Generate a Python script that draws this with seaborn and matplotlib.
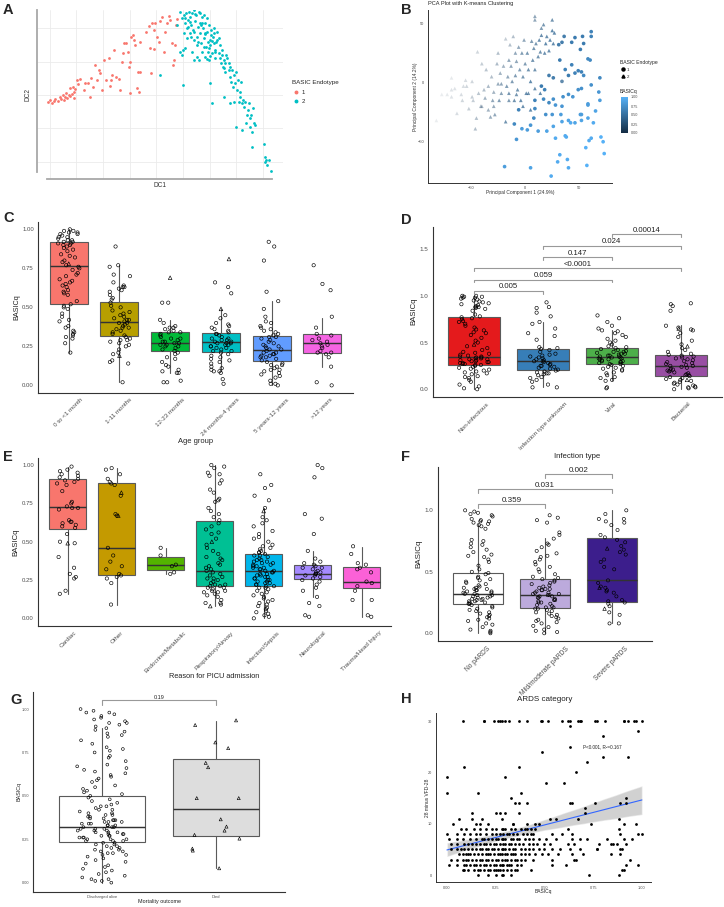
import numpy as np
import matplotlib
matplotlib.use("Agg")
import matplotlib.pyplot as plt
import seaborn as sns
from matplotlib.colors import LinearSegmentedColormap, Normalize
from matplotlib.cm import ScalarMappable
from matplotlib.lines import Line2D

# ---------------- data ----------------
# A: diffusion map, endotype 1 (red) and 2 (teal)
a_dc1_1 = [14.3, 15.0, 15.5, 16.0, 16.5, 17.2, 17.8, 18.3, 18.8, 19.0, 19.5, 19.8, 20.0, 20.5, 20.8, 21.0, 21.5,
           21.8, 22.0, 22.2, 22.5, 23.0, 23.2, 24.0, 25.0, 25.5, 26.2, 26.8, 27.2, 27.8, 28.5, 29.0, 29.5, 30.0,
           30.5, 31.2, 31.8, 32.5, 33.0, 33.2, 33.5, 34.2, 34.8, 35.5, 36.0, 36.5, 36.8, 37.2, 37.8, 38.2, 38.5,
           38.8, 39.0, 39.2, 39.8, 40.2, 40.5, 41.0, 41.2, 41.5, 41.8, 42.0, 43.8, 44.5, 45.0, 45.2, 45.5, 46.0,
           46.2, 46.5, 47.0, 47.5, 47.8, 48.5, 49.0, 49.5, 50.0, 50.5, 51.0, 51.5, 51.8, 52.0, 52.5, 52.7, 53.0]
a_dc2_1 = [23.5, 24.0, 23.0, 23.7, 24.2, 23.7, 24.8, 24.2, 25.5, 24.0, 25.0, 26.2, 24.5, 25.5, 27.5, 25.2, 25.7,
           28.0, 24.5, 26.5, 27.2, 30.0, 28.8, 30.2, 27.0, 29.0, 29.2, 25.0, 30.5, 27.8, 34.5, 30.0, 33.0, 32.0,
           27.0, 36.0, 30.0, 36.5, 28.2, 30.0, 31.5, 39.0, 30.8, 30.2, 27.0, 35.5, 38.0, 41.2, 41.0, 38.5, 34.0,
           35.5, 26.2, 43.0, 43.5, 42.0, 40.5, 27.5, 32.5, 26.5, 41.5, 32.5, 44.5, 46.2, 39.5, 32.0, 47.0, 39.2,
           45.0, 47.2, 43.0, 41.5, 47.8, 49.0, 38.5, 44.5, 47.0, 49.2, 48.0, 41.0, 34.5, 36.0, 40.5, 46.5, 48.2]
a_dc1_2 = [48.0, 54.8, 53.0, 54.0, 54.5, 55.0, 55.2, 55.5, 55.8, 56.0, 56.2, 56.5, 56.8, 57.0, 57.2, 57.5, 57.8,
           58.0, 58.2, 58.5, 58.8, 59.0, 59.2, 59.5, 59.8, 60.0, 60.2, 60.5, 60.8, 61.0, 61.2, 61.5, 61.8, 62.0,
           62.2, 62.5, 62.8, 63.0, 63.2, 63.5, 63.8, 64.0, 64.2, 64.5, 64.8, 65.0, 65.5, 65.8, 66.0, 66.2, 66.5,
           66.8, 67.0, 67.2, 67.5, 67.8, 68.0, 68.5, 68.8, 69.0, 69.2, 69.5, 69.8, 70.0, 70.5, 70.8, 71.0, 71.2,
           71.5, 71.8, 72.0, 72.2, 72.5, 72.8, 73.0, 73.5, 73.8, 74.0, 74.2, 74.5, 74.8, 75.0, 75.2, 75.5, 75.8,
           76.0, 76.5, 54.8, 54.5, 53.8, 55.5, 57.5, 58.0, 59.0, 60.5, 61.5, 62.0, 62.5, 62.8, 63.6, 67.2, 69.0,
           70.0, 70.8, 72.5, 75.5, 79.0, 79.5, 79.8, 80.0, 80.5, 81.2, 79.5,
           55.3, 56.3, 57.3, 58.3, 59.3, 60.3, 61.3, 62.3, 63.3, 64.3, 56.0, 57.0, 58.0, 59.0, 60.0, 61.0, 62.0,
           63.0, 64.0, 65.0, 59.5, 60.5, 61.5, 62.5, 63.5, 64.5, 65.5, 66.5, 67.5, 68.5]
a_dc2_2 = [31.5, 28.5, 46.5, 50.5, 48.5, 44.0, 49.5, 47.0, 50.0, 45.5, 48.0, 50.5, 44.0, 49.0, 46.5, 50.0, 45.0,
           51.0, 42.0, 47.8, 49.5, 43.0, 46.0, 50.5, 47.2, 44.0, 41.0, 49.0, 45.5, 42.5, 49.5, 47.0, 40.0, 44.5,
           38.5, 46.5, 42.0, 40.5, 45.0, 38.0, 43.0, 41.0, 44.0, 39.0, 41.5, 44.5, 38.0, 40.5, 36.5, 35.0, 39.0,
           34.0, 33.5, 36.0, 32.5, 37.5, 36.5, 35.0, 31.0, 34.0, 29.5, 33.0, 28.0, 31.5, 29.0, 32.5, 27.0, 30.0,
           23.5, 25.0, 26.5, 29.5, 23.0, 24.0, 22.0, 23.5, 17.0, 19.5, 21.0, 23.0, 18.5, 16.0, 19.5, 14.5, 21.5,
           17.0, 16.5, 39.0, 37.5, 38.5, 39.5, 38.5, 36.0, 37.0, 38.5, 37.0, 36.2, 36.0, 29.2, 23.0, 25.0, 23.0,
           23.5, 16.0, 15.0, 10.0, 10.7, 7.0, 6.0, 4.5, 6.0, 2.7, 5.5,
           48.5, 46.0, 43.0, 49.8, 41.5, 46.5, 44.0, 41.5, 43.5, 38.5, 42.5, 47.5, 44.5, 40.5, 50.2, 40.0, 48.5,
           37.2, 45.5, 42.0, 36.0, 47.0, 43.8, 39.5, 41.8, 36.5, 42.5, 37.5, 35.0, 33.0]

# B: PCA, endotype 1 (circles) and 2 (triangles) with BASICq
b_pc1_1 = [-19, 5, 24, 30, 32, 39, 40, 57, 56, 61, 59, 70, 73, 72, -8, -3, 2, 12, 20, 26, 28, 37, 38, 34, 42,
           46, 52, 63, 58, 51, 52, 19, 25, 33, 40, 65, 58, 58, 69, 68, 34, 28, 22, 17, 9, 26, 35, 44, 40, 49,
           52, 61, 69, 54, 46, 40, 34, 26, 22, 32, 37, 43, 49, 52, 58, 60, 51, 54, 61, 61, 53, 46, 43, 36, 31,
           34, 5, 8, -6, -10, 15, 18, 9]
b_pc2_1 = [-71, -72, -79, -67, -61, -65, -72, -70, -55, -47, -49, -46, -60, -50, -48, -39, -40, -41, -41, -37,
           -47, -45, -46, -33, -34, -34, -32, -34, -30, -27, -27, -27, -27, -27, -32, -24, -19, -18, -15, -8,
           -20, -19, -17, -14, -15, -14, -12, -12, -10, -6, -5, -2, 4, 6, 8, 6, 1, 4, 6, 19, 11, 15, 10, 9, 20,
           19, 28, 33, 39, 43, 39, 38, 34, 39, 32, 34, -36, -30, -23, -35, -3, -6, -22]
b_q_1 = [0.85, 0.9, 0.95, 0.95, 0.95, 0.95, 0.95, 1.0, 1.0, 0.95, 0.95, 1.0, 1.0, 1.0, 0.8, 0.85, 0.85, 0.85,
         0.9, 0.9, 0.95, 0.95, 0.95, 0.9, 0.95, 0.9, 0.9, 0.95, 0.9, 0.85, 0.85, 0.75, 0.8, 0.85, 0.9, 0.9,
         0.85, 0.85, 0.85, 0.8, 0.8, 0.8, 0.7, 0.7, 0.65, 0.75, 0.75, 0.8, 0.75, 0.75, 0.75, 0.75, 0.7, 0.7,
         0.65, 0.6, 0.45, 0.55, 0.55, 0.6, 0.65, 0.65, 0.65, 0.65, 0.7, 0.7, 0.6, 0.6, 0.65, 0.65, 0.6, 0.6,
         0.6, 0.55, 0.55, 0.55, 0.8, 0.7, 0.65, 0.7, 0.6, 0.65, 0.7]
b_pc1_2 = [-82, -68, -72, -68, -63, -59, -58, -55, -54, -52, -49, -48, -46, -45, -44, -43, -41, -40, -38, -37,
           -36, -34, -34, -32, -31, -30, -29, -28, -26, -25, -25, -24, -23, -22, -22, -20, -18, -18, -17, -16,
           -15, -15, -14, -13, -12, -11, -10, -9, -9, -8, -7, -6, -5, -4, -3, -2, -1, 0, 1, 2, 3, 5, 6, 7, 8,
           9, 9, 10, 12, 13, 14, 15, 15, 17, 18, 19, 20, 22, 23, 25, 25, 26, 27, 9, 5, -2, -8, 9, 14, 3, -15,
           -29, -40, -49, -57, -65, -68, -77]
b_pc2_2 = [-32, -6, -10, -12, -26, -10, -15, 2, -3, -22, 1, -15, -39, -30, 26, -9, -20, 16, -6, -13, 11, -23,
           -3, -29, 5, -15, -8, -27, 16, -1, 25, -15, 8, -9, -1, 14, 37, -33, -3, 5, 19, -9, 32, 14, 1, 39, -15,
           25, 6, 18, -6, 30, 11, -15, 25, 5, 36, 16, -9, 25, 11, 1, 35, 19, 29, 53, 11, 33, 22, 36, 26, 46, 40,
           49, 25, 33, 39, 27, 36, 53, 44, 33, 42, 56, -23, -20, -10, -5, -9, -9, -15, -20, -20, -12, -3, -5, 4,
           -10]
b_q_2 = [0.05, 0.08, 0.06, 0.08, 0.1, 0.1, 0.12, 0.1, 0.12, 0.15, 0.12, 0.15, 0.2, 0.2, 0.12, 0.18, 0.2, 0.15,
         0.2, 0.25, 0.18, 0.25, 0.22, 0.28, 0.2, 0.3, 0.25, 0.3, 0.22, 0.28, 0.2, 0.35, 0.25, 0.32, 0.3, 0.25,
         0.15, 0.4, 0.35, 0.3, 0.3, 0.38, 0.2, 0.3, 0.35, 0.2, 0.4, 0.3, 0.35, 0.3, 0.4, 0.3, 0.35, 0.42, 0.35,
         0.38, 0.3, 0.35, 0.42, 0.38, 0.4, 0.45, 0.35, 0.4, 0.38, 0.3, 0.4, 0.38, 0.4, 0.42, 0.4, 0.35, 0.42,
         0.38, 0.42, 0.45, 0.42, 0.42, 0.45, 0.4, 0.45, 0.45, 0.45, 0.3, 0.45, 0.42, 0.38, 0.42, 0.45, 0.4,
         0.35, 0.28, 0.22, 0.15, 0.1, 0.08, 0.06, 0.05]

# C: age group
c_labels = ["0 to <1 month", "1-11 months", "12-23 months", "24 months-4 years", "5 years-12 years", ">12 years"]
c_colors = ["#F8766D", "#B79F00", "#00BA38", "#00BFC4", "#619CFF", "#F564E3"]
c_q1 = [0.52, 0.318, 0.22, 0.215, 0.155, 0.205]
c_med = [0.767, 0.404, 0.27, 0.275, 0.225, 0.27]
c_q3 = [0.917, 0.532, 0.34, 0.335, 0.315, 0.33]
c_lo = [0.21, 0.02, 0.08, 0.09, 0.0, 0.12]
c_hi = [1.0, 0.77, 0.42, 0.49, 0.54, 0.43]
c_alive = [
    [1.00, 0.99, 0.99, 0.98, 0.98, 0.97, 0.97, 0.96, 0.95, 0.95, 0.94, 0.93, 0.93, 0.92, 0.92, 0.91, 0.91, 0.90,
     0.90, 0.89, 0.88, 0.87, 0.86, 0.84, 0.83, 0.82, 0.80, 0.79, 0.77, 0.76, 0.75, 0.74, 0.72, 0.71, 0.70,
     0.68, 0.67, 0.66, 0.65, 0.64, 0.63, 0.61, 0.60, 0.59, 0.58, 0.54, 0.52, 0.51, 0.50, 0.49, 0.46, 0.44,
     0.42, 0.41, 0.38, 0.37, 0.35, 0.34, 0.33, 0.32, 0.31, 0.30, 0.27, 0.21],
    [0.89, 0.77, 0.76, 0.71, 0.70, 0.66, 0.64, 0.63, 0.63, 0.62, 0.61, 0.60, 0.58, 0.56, 0.55, 0.53, 0.51, 0.50,
     0.48, 0.47, 0.46, 0.45, 0.44, 0.43, 0.42, 0.42, 0.41, 0.40, 0.40, 0.39, 0.38, 0.37, 0.37, 0.36, 0.35,
     0.34, 0.33, 0.32, 0.31, 0.30, 0.29, 0.29, 0.28, 0.27, 0.26, 0.25, 0.23, 0.21, 0.20, 0.16, 0.15, 0.14,
     0.02],
    [0.53, 0.53, 0.42, 0.40, 0.38, 0.37, 0.37, 0.36, 0.35, 0.34, 0.34, 0.33, 0.32, 0.31, 0.30, 0.30, 0.29, 0.28,
     0.28, 0.27, 0.27, 0.26, 0.26, 0.25, 0.25, 0.24, 0.23, 0.22, 0.21, 0.20, 0.18, 0.17, 0.15, 0.13, 0.12,
     0.10, 0.09, 0.08, 0.08, 0.03, 0.02, 0.02],
    [0.66, 0.63, 0.59, 0.45, 0.43, 0.40, 0.39, 0.38, 0.37, 0.36, 0.35, 0.34, 0.33, 0.33, 0.32, 0.31, 0.30, 0.30,
     0.29, 0.29, 0.28, 0.28, 0.27, 0.27, 0.27, 0.26, 0.26, 0.25, 0.25, 0.24, 0.24, 0.23, 0.22, 0.22, 0.21,
     0.20, 0.19, 0.18, 0.17, 0.16, 0.15, 0.14, 0.12, 0.11, 0.10, 0.09, 0.09, 0.08, 0.04, 0.01],
    [0.92, 0.89, 0.80, 0.60, 0.54, 0.49, 0.44, 0.41, 0.40, 0.38, 0.37, 0.36, 0.35, 0.34, 0.33, 0.32, 0.31, 0.31,
     0.30, 0.29, 0.28, 0.27, 0.26, 0.25, 0.25, 0.24, 0.23, 0.23, 0.22, 0.21, 0.21, 0.20, 0.20, 0.19, 0.19,
     0.18, 0.18, 0.17, 0.16, 0.15, 0.14, 0.13, 0.13, 0.12, 0.11, 0.10, 0.10, 0.09, 0.08, 0.07, 0.06, 0.05,
     0.03, 0.01, 0.01, 0.00],
    [0.77, 0.65, 0.61, 0.44, 0.37, 0.33, 0.32, 0.30, 0.29, 0.28, 0.27, 0.26, 0.25, 0.24, 0.22, 0.21, 0.21, 0.20,
     0.18, 0.12, 0.02, 0.00],
]
c_died = [[0.78], [0.19], [0.69], [0.81, 0.49], [], []]

# D: infection type
d_labels = ["Non-infectious", "Infection type unknown", "Viral", "Bacterial"]
d_colors = ["#E41A1C", "#377EB8", "#4DAF4A", "#984EA3"]
d_q1 = [0.26, 0.21, 0.27, 0.145]
d_med = [0.35, 0.30, 0.35, 0.245]
d_q3 = [0.77, 0.43, 0.44, 0.37]
d_lo = [0.0, 0.02, 0.10, 0.0]
d_hi = [1.0, 0.72, 0.63, 0.69]
d_alive = [
    [1.00, 1.00, 0.99, 0.99, 0.98, 0.98, 0.97, 0.96, 0.95, 0.94, 0.93, 0.92, 0.91, 0.90, 0.89, 0.88, 0.88, 0.87,
     0.86, 0.84, 0.80, 0.78, 0.77, 0.76, 0.75, 0.73, 0.72, 0.70, 0.68, 0.66, 0.64, 0.63, 0.61, 0.60, 0.58,
     0.55, 0.52, 0.50, 0.46, 0.44, 0.42, 0.40, 0.39, 0.38, 0.37, 0.36, 0.35, 0.35, 0.34, 0.34, 0.33, 0.33,
     0.32, 0.32, 0.31, 0.31, 0.30, 0.30, 0.29, 0.29, 0.28, 0.28, 0.27, 0.27, 0.26, 0.26, 0.25, 0.24, 0.23,
     0.22, 0.21, 0.20, 0.19, 0.18, 0.17, 0.16, 0.14, 0.13, 0.12, 0.10, 0.08, 0.05, 0.03, 0.01, 0.00],
    [0.93, 0.88, 0.87, 0.82, 0.78, 0.72, 0.70, 0.65, 0.60, 0.57, 0.53, 0.45, 0.44, 0.43, 0.42, 0.40, 0.38, 0.37,
     0.36, 0.35, 0.34, 0.33, 0.32, 0.31, 0.30, 0.30, 0.29, 0.28, 0.27, 0.26, 0.25, 0.25, 0.24, 0.23, 0.22,
     0.21, 0.20, 0.19, 0.18, 0.17, 0.17, 0.16, 0.15, 0.13, 0.12, 0.10, 0.08, 0.05, 0.02, 0.02],
    [0.79, 0.76, 0.72, 0.68, 0.65, 0.63, 0.62, 0.60, 0.58, 0.56, 0.54, 0.52, 0.50, 0.48, 0.46, 0.45, 0.44, 0.43,
     0.42, 0.41, 0.40, 0.40, 0.39, 0.38, 0.38, 0.37, 0.36, 0.36, 0.35, 0.35, 0.34, 0.34, 0.33, 0.33, 0.32,
     0.32, 0.31, 0.30, 0.30, 0.29, 0.29, 0.28, 0.27, 0.27, 0.26, 0.25, 0.24, 0.23, 0.22, 0.21, 0.20, 0.18,
     0.17, 0.15, 0.13, 0.12, 0.10, 0.09, 0.02, 0.01],
    [0.92, 0.91, 0.89, 0.84, 0.68, 0.66, 0.64, 0.63, 0.60, 0.56, 0.52, 0.48, 0.44, 0.42, 0.40, 0.38, 0.37, 0.36,
     0.35, 0.34, 0.33, 0.32, 0.31, 0.30, 0.29, 0.28, 0.27, 0.26, 0.25, 0.25, 0.24, 0.23, 0.22, 0.21, 0.20,
     0.20, 0.19, 0.18, 0.17, 0.16, 0.15, 0.15, 0.14, 0.13, 0.12, 0.11, 0.10, 0.09, 0.08, 0.07, 0.06, 0.05,
     0.04, 0.03, 0.02, 0.02, 0.01, 0.00],
]
d_died = [[0.48], [], [], [0.65, 0.46, 0.10]]
d_pairs = [(0, 1), (0, 2), (0, 3), (1, 2), (1, 3), (2, 3)]
d_pvals = ["0.005", "0.059", "<0.0001", "0.147", "0.024", "0.00014"]

# E: reason for PICU admission
e_labels = ["Cardiac", "Other", "Endocrine/Metabolic", "Respiratory/Airway", "Infection/Sepsis",
            "Neurological", "Trauma/Head Injury"]
e_colors = ["#F8766D", "#C49A00", "#53B400", "#00C094", "#00B6EB", "#A58AFF", "#FB61D7"]
e_q1 = [0.58, 0.28, 0.313, 0.213, 0.21, 0.259, 0.196]
e_med = [0.724, 0.461, 0.346, 0.309, 0.307, 0.291, 0.239]
e_q3 = [0.909, 0.88, 0.398, 0.637, 0.417, 0.346, 0.337]
e_lo = [0.157, 0.09, 0.29, 0.08, 0.0, 0.14, 0.01]
e_hi = [0.99, 0.98, 0.46, 1.0, 0.72, 0.44, 0.467]
e_alive = [
    [0.99, 0.97, 0.96, 0.95, 0.94, 0.93, 0.92, 0.91, 0.90, 0.89, 0.88, 0.87, 0.83, 0.76, 0.75, 0.73, 0.72, 0.72,
     0.71, 0.64, 0.63, 0.63, 0.62, 0.61, 0.60, 0.59, 0.55, 0.50, 0.49, 0.40, 0.33, 0.29, 0.27, 0.26, 0.18,
     0.16],
    [0.98, 0.97, 0.94, 0.91, 0.89, 0.88, 0.87, 0.80, 0.68, 0.67, 0.46, 0.41, 0.37, 0.34, 0.32, 0.29, 0.28, 0.27,
     0.26, 0.23, 0.09],
    [0.46, 0.41, 0.35, 0.34, 0.30, 0.29],
    [1.00, 0.99, 0.98, 0.95, 0.94, 0.93, 0.90, 0.88, 0.84, 0.82, 0.78, 0.77, 0.76, 0.72, 0.70, 0.68, 0.66, 0.64,
     0.62, 0.60, 0.58, 0.56, 0.55, 0.52, 0.48, 0.46, 0.44, 0.42, 0.40, 0.39, 0.38, 0.36, 0.35, 0.34, 0.33,
     0.32, 0.31, 0.30, 0.29, 0.28, 0.27, 0.26, 0.26, 0.25, 0.24, 0.23, 0.22, 0.22, 0.21, 0.21, 0.20, 0.20,
     0.19, 0.18, 0.18, 0.17, 0.17, 0.16, 0.15, 0.14, 0.12, 0.10, 0.10, 0.09],
    [0.94, 0.87, 0.85, 0.80, 0.77, 0.72, 0.66, 0.64, 0.62, 0.60, 0.57, 0.55, 0.53, 0.52, 0.50, 0.48, 0.47, 0.46,
     0.45, 0.44, 0.43, 0.43, 0.42, 0.41, 0.41, 0.40, 0.39, 0.38, 0.38, 0.37, 0.37, 0.36, 0.36, 0.35, 0.35,
     0.34, 0.34, 0.33, 0.33, 0.32, 0.32, 0.31, 0.31, 0.30, 0.30, 0.29, 0.29, 0.28, 0.28, 0.27, 0.27, 0.26,
     0.26, 0.25, 0.25, 0.24, 0.24, 0.23, 0.23, 0.22, 0.22, 0.21, 0.21, 0.20, 0.20, 0.19, 0.18, 0.17, 0.16,
     0.15, 0.14, 0.13, 0.12, 0.11, 0.10, 0.09, 0.08, 0.07, 0.06, 0.05, 0.04, 0.03, 0.02, 0.01, 0.00],
    [1.00, 0.98, 0.92, 0.68, 0.65, 0.55, 0.44, 0.39, 0.37, 0.36, 0.35, 0.34, 0.33, 0.33, 0.32, 0.31, 0.30, 0.30,
     0.29, 0.29, 0.28, 0.28, 0.27, 0.26, 0.25, 0.24, 0.22, 0.20, 0.18, 0.14, 0.10, 0.08, 0.02, 0.01],
    [0.47, 0.42, 0.36, 0.35, 0.33, 0.32, 0.30, 0.24, 0.23, 0.21, 0.18, 0.12, 0.12, 0.02, 0.01],
]
e_died = [[0.49], [0.82, 0.67], [], [0.50, 0.08], [0.70], [], []]

# F: ARDS category
f_labels = ["No pARDS", "Mild/moderate pARDS", "Severe pARDS"]
f_colors = ["#FFFFFF", "#BCAADC", "#3C1E8C"]
f_q1 = [0.236, 0.209, 0.255]
f_med = [0.32, 0.309, 0.431]
f_q3 = [0.493, 0.444, 0.778]
f_lo = [0.0, 0.0, 0.08]
f_hi = [0.886, 0.772, 1.0]
f_alive = [
    [1.00, 0.99, 0.98, 0.97, 0.96, 0.95, 0.93, 0.92, 0.91, 0.91, 0.90, 0.89, 0.88, 0.87, 0.85, 0.76, 0.75, 0.73,
     0.72, 0.70, 0.68, 0.66, 0.64, 0.63, 0.62, 0.60, 0.58, 0.55, 0.52, 0.50, 0.49, 0.48, 0.46, 0.45, 0.44,
     0.43, 0.42, 0.41, 0.40, 0.39, 0.38, 0.37, 0.37, 0.36, 0.36, 0.35, 0.35, 0.34, 0.34, 0.33, 0.33, 0.32,
     0.32, 0.31, 0.31, 0.30, 0.30, 0.29, 0.29, 0.28, 0.28, 0.27, 0.27, 0.26, 0.26, 0.25, 0.25, 0.24, 0.24,
     0.23, 0.22, 0.21, 0.20, 0.19, 0.18, 0.17, 0.16, 0.15, 0.14, 0.13, 0.12, 0.11, 0.10, 0.08, 0.07, 0.05,
     0.03, 0.02, 0.01, 0.00],
    [0.96, 0.94, 0.92, 0.90, 0.82, 0.80, 0.77, 0.73, 0.72, 0.70, 0.67, 0.65, 0.63, 0.62, 0.60, 0.58, 0.56, 0.54,
     0.52, 0.50, 0.48, 0.46, 0.45, 0.44, 0.43, 0.42, 0.41, 0.40, 0.39, 0.38, 0.37, 0.36, 0.36, 0.35, 0.35,
     0.34, 0.33, 0.33, 0.32, 0.32, 0.31, 0.31, 0.30, 0.30, 0.29, 0.29, 0.28, 0.27, 0.27, 0.26, 0.25, 0.25,
     0.24, 0.23, 0.22, 0.21, 0.21, 0.20, 0.20, 0.19, 0.18, 0.17, 0.16, 0.15, 0.14, 0.13, 0.12, 0.11, 0.10,
     0.09, 0.08, 0.06, 0.05, 0.03, 0.02, 0.01, 0.00],
    [1.00, 0.97, 0.93, 0.93, 0.91, 0.90, 0.88, 0.84, 0.80, 0.78, 0.76, 0.74, 0.71, 0.68, 0.66, 0.64, 0.60, 0.58,
     0.54, 0.52, 0.43, 0.41, 0.38, 0.37, 0.35, 0.34, 0.33, 0.30, 0.27, 0.26, 0.25, 0.24, 0.22, 0.17, 0.15,
     0.08, 0.08],
]
f_died = [[], [], [0.69, 0.37, 0.20]]
f_pairs = [(0, 1), (0, 2), (1, 2)]
f_pvals = ["0.359", "0.031", "0.002"]

# G: mortality outcome
g_labels = ["Discharged alive", "Died"]
g_colors = ["#FFFFFF", "#DDDDDD"]
g_q1 = [0.233, 0.269]
g_med = [0.321, 0.427]
g_q3 = [0.498, 0.712]
g_lo = [0.0, 0.083]
g_hi = [0.89, 0.933]
g_alive = [1.00, 0.99, 0.98, 0.98, 0.97, 0.96, 0.95, 0.94, 0.93, 0.92, 0.92, 0.91, 0.90, 0.89, 0.88, 0.87, 0.86,
           0.85, 0.84, 0.82, 0.80, 0.78, 0.77, 0.76, 0.75, 0.73, 0.72, 0.70, 0.68, 0.67, 0.66, 0.65, 0.64, 0.63,
           0.62, 0.61, 0.60, 0.59, 0.58, 0.56, 0.55, 0.54, 0.53, 0.52, 0.51, 0.50, 0.49, 0.48, 0.47, 0.46, 0.45,
           0.44, 0.44, 0.43, 0.42, 0.42, 0.41, 0.40, 0.40, 0.39, 0.39, 0.38, 0.38, 0.37, 0.37, 0.36, 0.36, 0.36,
           0.35, 0.35, 0.35, 0.34, 0.34, 0.34, 0.33, 0.33, 0.33, 0.32, 0.32, 0.32, 0.31, 0.31, 0.31, 0.30, 0.30,
           0.30, 0.29, 0.29, 0.29, 0.28, 0.28, 0.28, 0.27, 0.27, 0.27, 0.26, 0.26, 0.26, 0.25, 0.25, 0.25, 0.24,
           0.24, 0.24, 0.23, 0.23, 0.22, 0.22, 0.21, 0.21, 0.20, 0.20, 0.19, 0.19, 0.18, 0.18, 0.17, 0.17, 0.16,
           0.16, 0.15, 0.14, 0.13, 0.12, 0.11, 0.10, 0.09, 0.08, 0.07, 0.06, 0.05, 0.04, 0.03, 0.02, 0.02, 0.01,
           0.01, 0.00]
g_died = [0.935, 0.908, 0.808, 0.775, 0.69, 0.665, 0.487, 0.487, 0.365, 0.323, 0.30, 0.275, 0.254, 0.196,
          0.185, 0.083]
g_pval = "0.19"

# H: 28 minus VFD-28 vs BASICq, one x-list per y level
h_levels = [30, 29, 28, 27, 25, 24, 23, 22, 21, 20, 19, 18, 16, 15, 14, 13, 12, 11, 10, 9, 8, 7, 6, 5, 4, 3, 2,
            1, 0]
h_basicq = [
    [0.08, 0.19, 0.19, 0.24, 0.26, 0.27, 0.28, 0.30, 0.32, 0.37, 0.41, 0.48, 0.49, 0.52, 0.59, 0.62, 0.63, 0.67,
     0.68, 0.69, 0.76, 0.77, 0.81, 0.91, 0.91, 0.93, 0.96, 0.97, 1.00],
    [0.63], [0.98], [0.80], [0.63], [0.49], [0.80, 0.93], [0.72], [0.09, 0.37], [0.66], [0.00, 0.30],
    [0.51, 0.60], [0.00, 0.16, 0.38], [0.33, 0.92],
    [0.35, 0.37, 0.41, 0.63, 0.64, 0.76, 0.89, 0.92],
    [0.71],
    [0.13, 0.25, 0.27, 0.30, 0.37, 0.71],
    [0.06, 0.13, 0.18, 0.28, 0.53, 0.56, 0.67, 0.88],
    [0.03, 0.15, 0.17, 0.21, 0.34, 0.34, 0.41, 0.45, 0.47, 0.74, 0.91, 0.97],
    [0.07, 0.10, 0.14, 0.17, 0.20, 0.23, 0.25, 0.28, 0.29, 0.30, 0.33, 0.35, 0.38, 0.40, 0.41, 0.43, 0.45, 0.62,
     0.88],
    [0.00, 0.05, 0.09, 0.12, 0.15, 0.17, 0.20, 0.23, 0.25, 0.27, 0.29, 0.31, 0.32, 0.34, 0.36, 0.39, 0.41, 0.43,
     0.44, 0.54, 0.59, 0.64, 0.89, 0.98, 1.00],
    [0.01, 0.05, 0.08, 0.12, 0.15, 0.18, 0.19, 0.21, 0.23, 0.25, 0.26, 0.28, 0.29, 0.30, 0.33, 0.34, 0.36, 0.37,
     0.40, 0.42, 0.44, 0.47, 0.51, 0.56, 0.64, 0.68, 0.72, 0.82, 0.91, 0.95],
    [0.02, 0.05, 0.09, 0.11, 0.13, 0.15, 0.17, 0.19, 0.20, 0.22, 0.24, 0.25, 0.27, 0.29, 0.30, 0.32, 0.33, 0.35,
     0.37, 0.39, 0.42, 0.44, 0.46, 0.50, 0.53, 0.62, 0.65, 0.78, 0.84, 0.85, 0.87, 0.92],
    [0.02, 0.05, 0.07, 0.09, 0.11, 0.13, 0.15, 0.17, 0.18, 0.20, 0.21, 0.23, 0.24, 0.26, 0.28, 0.29, 0.30, 0.32,
     0.34, 0.35, 0.38, 0.40, 0.42, 0.44, 0.47, 0.50, 0.54, 0.58, 0.63, 0.68, 0.77, 0.77, 0.89, 0.90],
    [0.06, 0.08, 0.10, 0.11, 0.12, 0.14, 0.16, 0.18, 0.20, 0.21, 0.22, 0.24, 0.26, 0.27, 0.28, 0.30, 0.31, 0.33,
     0.34, 0.35, 0.38, 0.40, 0.42, 0.45, 0.49, 0.52, 0.57, 0.64, 0.70, 0.84, 0.89],
    [0.02, 0.05, 0.08, 0.10, 0.11, 0.13, 0.15, 0.17, 0.18, 0.20, 0.21, 0.23, 0.25, 0.26, 0.28, 0.30, 0.31, 0.33,
     0.35, 0.36, 0.38, 0.40, 0.44, 0.54, 0.65, 0.66, 0.94],
    [0.01, 0.05, 0.09, 0.10, 0.12, 0.14, 0.15, 0.17, 0.19, 0.20, 0.22, 0.24, 0.25, 0.27, 0.28, 0.29, 0.31, 0.32,
     0.33, 0.36, 0.38, 0.54, 0.61, 0.92, 0.98],
    [0.08, 0.09, 0.11, 0.14, 0.16, 0.17, 0.19, 0.21, 0.22, 0.24, 0.25, 0.26, 0.27, 0.29, 0.31, 0.33, 0.35, 0.36,
     0.43, 0.90, 0.91],
    [0.16, 0.21, 0.25, 0.28, 0.29, 0.33, 0.73, 0.88],
]
h_note = "P<0.001, R\u00b2=0.167"

# ---------------- figure ----------------
sns.set_theme(style="white")
plt.rcParams['font.family'] = ['Liberation Sans', 'DejaVu Sans']
np.random.seed(3)

W, H = 724, 907
fig = plt.figure(figsize=(W / 100, H / 100), dpi=100)
TICK = '#4D4D4D'


def px_axes(l, t, r, b):
    return fig.add_axes([l / W, 1 - b / H, (r - l) / W, (b - t) / H])


def letter(x, y, s):
    fig.text(x / W, 1 - y / H, s, fontsize=10.5, fontweight='bold', va='top', ha='left')


def classic(ax, lw=0.8, tick_fs=4.3):
    for side in ['top', 'right']:
        ax.spines[side].set_visible(False)
    for side in ['left', 'bottom']:
        ax.spines[side].set_color('#333333')
        ax.spines[side].set_linewidth(lw)
    ax.tick_params(length=2, width=0.5, color='#333333', labelcolor=TICK, labelsize=tick_fs, pad=1.2)


def box_panel(ax, labels, alive, died, q1, med, q3, lo, hi, colors, pt=2.4, lw=0.8):
    stats = [dict(q1=a, med=b, q3=c, whislo=d, whishi=e) for a, b, c, d, e in zip(q1, med, q3, lo, hi)]
    res = ax.bxp(stats, positions=list(range(len(labels))), widths=0.75, patch_artist=True,
                 showfliers=False, showcaps=False,
                 boxprops=dict(edgecolor='#5A5A5A', linewidth=lw),
                 whiskerprops=dict(color='#5A5A5A', linewidth=lw),
                 medianprops=dict(color='#333333', linewidth=lw * 1.3))
    for patch, col in zip(res['boxes'], colors):
        patch.set_facecolor(col)
    n0 = len(ax.collections)
    xs = [lab for lab, vals in zip(labels, alive) for _ in vals]
    ys = [v for vals in alive for v in vals]
    sns.stripplot(x=xs, y=ys, order=labels, ax=ax, jitter=0.22, size=pt, color='black',
                  edgecolor='black', linewidth=0.45, marker='o', zorder=3)
    xd = [lab for lab, vals in zip(labels, died) for _ in vals]
    yd = [v for vals in died for v in vals]
    if yd:
        sns.stripplot(x=xd, y=yd, order=labels, ax=ax, jitter=0.22, size=pt * 1.1, color='black',
                      edgecolor='black', linewidth=0.45, marker='^', zorder=3)
    for coll in ax.collections[n0:]:
        coll.set_facecolor('none')
        coll.set_edgecolor('black')
    ax.set_xlim(-0.6, len(labels) - 0.4)
    ax.set_xticks(range(len(labels)))


def brackets(ax, pairs, pvals, y0, step, h, fs):
    for i, ((a, b), p) in enumerate(zip(pairs, pvals)):
        y = y0 + i * step
        ax.plot([a, a, b, b], [y - h, y, y, y - h], color='#999999', lw=0.8, clip_on=False, zorder=4)
        ax.text((a + b) / 2, y + h * 0.15, p, ha='center', va='bottom', fontsize=fs, color='#222222')


# ---- A ----
ax = px_axes(37, 10, 283, 179)
sns.scatterplot(x=a_dc1_1, y=a_dc2_1, color='#F8766D', s=4, linewidth=0, ax=ax, zorder=3)
sns.scatterplot(x=a_dc1_2, y=a_dc2_2, color='#00BFC4', s=4, linewidth=0, ax=ax, zorder=3)
ax.set_xlim(11.0, 84.8)
ax.set_ylim(0.3, 51.0)
ax.set_xticks([14.8, 22.8, 30.8, 38.8, 46.8, 54.8, 62.8, 70.8, 78.8])
ax.set_yticks([5.5, 15.5, 25.5, 35.5, 45.5])
ax.grid(True, color='#EBEBEB', lw=0.6)
ax.tick_params(length=0, labelbottom=False, labelleft=False)
for side in ['top', 'right']:
    ax.spines[side].set_visible(False)
ax.spines['left'].set_bounds(2.5, 51)
ax.spines['bottom'].set_bounds(14, 81.5)
for side in ['left', 'bottom']:
    ax.spines[side].set_color('#A8A8A8')
    ax.spines[side].set_linewidth(1.3)
ax.set_xlabel('DC1', fontsize=4.7, color='#333333')
ax.set_ylabel('DC2', fontsize=4.7, color='#333333')
ax.xaxis.set_label_coords(0.5, -0.015)
ax.yaxis.set_label_coords(-0.022, 0.5)
hA = [Line2D([], [], ls='', marker='o', markersize=1.8, color=c) for c in ['#F8766D', '#00BFC4']]
leg = fig.legend(hA, ['1', '2'], title='BASIC Endotype', loc='upper left', bbox_to_anchor=(287 / W, 1 - 75 / H),
                 frameon=False, fontsize=4.3, title_fontsize=4.5, handletextpad=0.4, labelspacing=0.7,
                 handlelength=1.2)
leg._legend_box.align = 'left'
letter(3, 3, 'A')

# ---- B ----
cmap = LinearSegmentedColormap.from_list('gg', ['#132B43', '#56B1F7'])
ax = px_axes(427.7, 10, 612, 182.7)
for pc1, pc2, q, mk in [(b_pc1_2, b_pc2_2, b_q_2, '^'), (b_pc1_1, b_pc2_1, b_q_1, 'o')]:
    cols = cmap(np.asarray(q))
    cols[:, 3] = np.clip(np.asarray(q) * 1.7, 0.07, 1)
    ax.scatter(pc1, pc2, c=cols, s=7, marker=mk, linewidths=0)
ax.set_xlim(-90, 80.2)
ax.set_ylim(-84.6, 61.3)
ax.set_xticks([-50, 0, 50])
ax.set_yticks([-50, 0, 50])
classic(ax, lw=0.7, tick_fs=2.9)
ax.tick_params(length=1.5)
ax.set_xlabel('Principal Component 1 (24.9%)', fontsize=3.5, color='#333333')
ax.set_ylabel('Principal Component 2 (14.2%)', fontsize=3.5, color='#333333')
ax.xaxis.set_label_coords(0.5, -0.045)
ax.yaxis.set_label_coords(-0.05, 0.5)
fig.text(428 / W, 1 - 4 / H, 'PCA Plot with K-means Clustering', fontsize=4.1, va='center', ha='left',
         color='#222222')
hB = [Line2D([], [], ls='', marker=m, markersize=2.2, color='black') for m in ['o', '^']]
leg = fig.legend(hB, ['1', '2'], title='BASIC Endotype', loc='upper left', bbox_to_anchor=(616 / W, 1 - 56 / H),
                 frameon=False, fontsize=3.2, title_fontsize=3.6, handletextpad=0.4, labelspacing=0.6,
                 handlelength=1.2)
leg._legend_box.align = 'left'
fig.text(620 / W, 1 - 92 / H, 'BASICq', fontsize=3.6, va='center', ha='left', color='#222222')
cax = px_axes(621, 97, 628, 133)
cb = fig.colorbar(ScalarMappable(norm=Normalize(0, 1), cmap=cmap), cax=cax, ticks=[0, 0.25, 0.5, 0.75, 1])
cb.outline.set_visible(False)
cb.ax.set_yticklabels(['0.00', '0.25', '0.50', '0.75', '1.00'])
cb.ax.tick_params(size=1.2, width=0.4, color='white', labelsize=2.7, labelcolor=TICK, pad=1)
letter(401, 3, 'B')

# ---- C ----
ax = px_axes(38.3, 221.7, 352.7, 392.7)
box_panel(ax, c_labels, c_alive, c_died, c_q1, c_med, c_q3, c_lo, c_hi, c_colors, pt=2.4)
ax.set_ylim(-0.047, 1.049)
ax.set_yticks([0, 0.25, 0.5, 0.75, 1.0])
ax.set_yticklabels(['0.00', '0.25', '0.50', '0.75', '1.00'])
classic(ax, tick_fs=4.3)
ax.set_xticklabels(c_labels, rotation=45, fontsize=4.5)
ax.set_xlabel('Age group', fontsize=5.4, color='#222222')
ax.set_ylabel('BASICq', fontsize=5.2, color='#222222')
ax.xaxis.set_label_coords(0.5, -0.265)
ax.yaxis.set_label_coords(-0.057, 0.5)
letter(3, 211, 'C')

# ---- D ----
ax = px_axes(432.7, 226.7, 722, 396.7)
box_panel(ax, d_labels, d_alive, d_died, d_q1, d_med, d_q3, d_lo, d_hi, d_colors, pt=2.4)
ax.set_ylim(-0.08, 1.74)
ax.set_yticks([0, 0.5, 1.0, 1.5])
ax.set_yticklabels(['0.0', '0.5', '1.0', '1.5'])
classic(ax, tick_fs=4.5)
ax.set_xticklabels(d_labels, rotation=45, fontsize=4.6)
brackets(ax, d_pairs, d_pvals, 1.054, 0.1205, 0.03, 5.6)
ax.set_xlabel('Infection type', fontsize=5.6, color='#222222')
ax.set_ylabel('BASICq', fontsize=5.6, color='#222222')
ax.xaxis.set_label_coords(0.5, -0.331)
ax.yaxis.set_label_coords(-0.054, 0.5)
letter(401, 213, 'D')

# ---- E ----
ax = px_axes(38.3, 458.3, 391, 625.7)
box_panel(ax, e_labels, e_alive, e_died, e_q1, e_med, e_q3, e_lo, e_hi, e_colors, pt=2.4)
ax.set_ylim(-0.048, 1.044)
ax.set_yticks([0, 0.25, 0.5, 0.75, 1.0])
ax.set_yticklabels(['0.00', '0.25', '0.50', '0.75', '1.00'])
classic(ax, tick_fs=4.3)
ax.set_xticklabels(e_labels, rotation=45, fontsize=4.5)
ax.set_xlabel('Reason for PICU admission', fontsize=5.3, color='#222222')
ax.set_ylabel('BASICq', fontsize=5.6, color='#222222')
ax.xaxis.set_label_coords(0.5, -0.283)
ax.yaxis.set_label_coords(-0.053, 0.5)
letter(3, 450, 'E')

# ---- F ----
ax = px_axes(437.7, 466.7, 652, 641)
box_panel(ax, f_labels, f_alive, f_died, f_q1, f_med, f_q3, f_lo, f_hi, f_colors, pt=2.3)
ax.set_ylim(-0.063, 1.355)
ax.set_yticks([0, 0.5, 1.0])
ax.set_yticklabels(['0.0', '0.5', '1.0'])
classic(ax, tick_fs=4.5)
ax.set_xticklabels(f_labels, rotation=45, fontsize=4.8)
brackets(ax, f_pairs, f_pvals, 1.051, 0.121, 0.03, 5.8)
ax.set_xlabel('ARDS category', fontsize=5.8, color='#222222')
ax.set_ylabel('BASICq', fontsize=5.8, color='#222222')
ax.xaxis.set_label_coords(0.5, -0.313)
ax.yaxis.set_label_coords(-0.071, 0.5)
letter(401, 450, 'F')

# ---- G ----
ax = px_axes(33.3, 691.7, 285, 891.7)
box_panel(ax, g_labels, [g_alive, []], [[], g_died], g_q1, g_med, g_q3, g_lo, g_hi, g_colors, pt=2.0)
ax.set_ylim(-0.052, 1.10)
ax.set_yticks([0, 0.25, 0.5, 0.75, 1.0])
ax.set_yticklabels(['0.00', '0.25', '0.50', '0.75', '1.00'])
classic(ax, tick_fs=2.8)
ax.tick_params(length=1.5)
ax.set_xticklabels(g_labels, fontsize=3.0)
brackets(ax, [(0, 1)], [g_pval], 1.05, 0, 0.025, 4.0)
ax.set_xlabel('Mortality outcome', fontsize=3.9, color='#222222')
ax.set_ylabel('BASICq', fontsize=3.9, color='#222222')
ax.xaxis.set_label_coords(0.5, -0.036)
ax.yaxis.set_label_coords(-0.047, 0.5)
letter(10, 693, 'G')

# ---- H ----
h_x = [v for xs in h_basicq for v in xs]
h_y = [lev for lev, xs in zip(h_levels, h_basicq) for _ in xs]
ax = px_axes(436, 713.3, 651.3, 882)
sns.regplot(x=h_x, y=h_y, scatter=False, ax=ax, color='#3366FF', ci=95, seed=5,
            line_kws=dict(lw=0.8))
for coll in ax.collections:
    coll.set_facecolor('#999999')
    coll.set_alpha(0.45)
sns.scatterplot(x=h_x, y=h_y, color='black', s=4, linewidth=0, ax=ax, zorder=3)
ax.set_xlim(-0.056, 1.048)
ax.set_ylim(-1.36, 31.5)
ax.set_xticks([0, 0.25, 0.5, 0.75, 1.0])
ax.set_xticklabels(['0.00', '0.25', '0.50', '0.75', '1.00'])
ax.set_yticks([0, 10, 20, 30])
classic(ax, lw=0.7, tick_fs=2.8)
ax.tick_params(length=1.5)
ax.text(0.70, 25, h_note, fontsize=3.3, va='center', ha='left', color='#222222')
ax.set_xlabel('BASICq', fontsize=3.5, color='#222222')
ax.set_ylabel('28 minus VFD-28', fontsize=3.5, color='#222222')
ax.xaxis.set_label_coords(0.5, -0.041)
ax.yaxis.set_label_coords(-0.03, 0.5)
letter(401, 692, 'H')

fig.savefig('out.png', dpi=100)
